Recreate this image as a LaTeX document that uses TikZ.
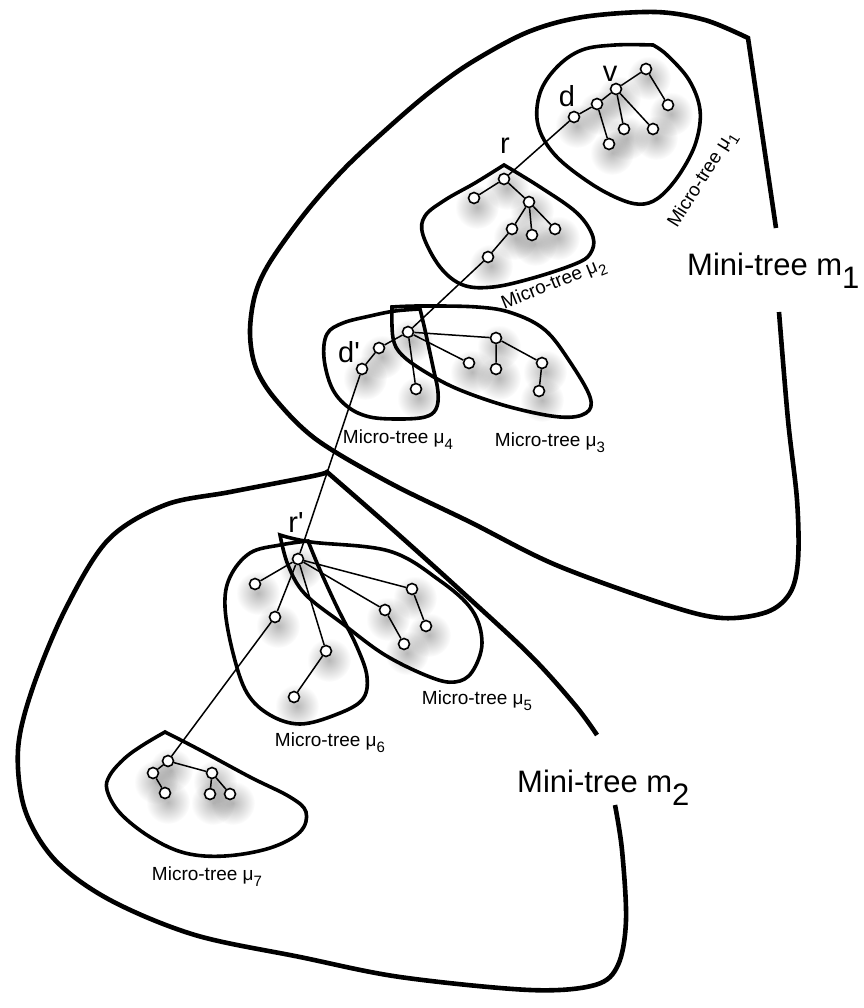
\documentclass[tikz,border=0pt]{standalone}
\usepackage{fontspec}
\usepackage{graphicx}
\setmainfont{Liberation Sans}[Ligatures=TeXOff]
\usetikzlibrary{fadings}
\tikzfading[name=softshadow, inner color=transparent!0, outer color=transparent!100]
\pgfdeclarelayer{bg}
\pgfsetlayers{bg,main}
\newcommand\mulab[1]{Micro-tree μ\raisebox{-0.32em}{\fontsize{15}{15}\selectfont #1}}
\newcommand\minilab[1]{Mini-tree m\raisebox{-0.42em}{#1}}
\tikzset{
  tn/.style={circle, draw, fill=white, line width=1.6pt, inner sep=0pt, minimum size=11pt},
  tedge/.style={line width=1.5pt},
  micro/.style={line width=3.6pt},
  mini/.style={line width=4.6pt},
  lbl/.style={font=\fontsize{29}{29}\selectfont, inner sep=0pt},
  mlbl/.style={font=\fontsize{19}{19}\selectfont, inner sep=0pt},
  Mlbl/.style={font=\fontsize{31}{31}\selectfont, inner sep=0pt, anchor=base west},
  shd/.style={fill=black, opacity=0.28, path fading=softshadow},
}
\begin{document}
\begin{tikzpicture}[x=1pt,y=-1pt]
\useasboundingbox (0,0) rectangle (863,1008);

% ---------- tree nodes ----------
% micro-tree mu1
\node[tn] (a1) at (574,117) {};
\node[tn] (a2) at (597,104) {};
\node[tn] (a3) at (616,89) {};
\node[tn] (a4) at (646,69) {};
\node[tn] (a5) at (668,105) {};
\node[tn] (a6) at (624,129) {};
\node[tn] (a7) at (653,129) {};
\node[tn] (a8) at (609,144) {};
% micro-tree mu2
\node[tn] (b1) at (504,179) {};
\node[tn] (b2) at (474,198) {};
\node[tn] (b3) at (529,202) {};
\node[tn] (b4) at (512,229) {};
\node[tn] (b5) at (532,235) {};
\node[tn] (b6) at (555,229) {};
\node[tn] (b7) at (488,257) {};
% micro-trees mu3 / mu4
\node[tn] (c1) at (408,332) {};
\node[tn] (c2) at (379,348) {};
\node[tn] (c3) at (362,369) {};
\node[tn] (c4) at (416,389) {};
\node[tn] (c5) at (469,363) {};
\node[tn] (c6) at (496,338) {};
\node[tn] (c7) at (496,369) {};
\node[tn] (c8) at (542,363) {};
\node[tn] (c9) at (539,391) {};
% micro-trees mu5 / mu6
\node[tn] (e1) at (298,559) {};
\node[tn] (e2) at (255,584) {};
\node[tn] (e3) at (275,617) {};
\node[tn] (e4) at (326,651) {};
\node[tn] (e5) at (294,697) {};
\node[tn] (e6) at (385,610) {};
\node[tn] (e7) at (404,644) {};
\node[tn] (e8) at (412,589) {};
\node[tn] (e9) at (426,626) {};
% micro-tree mu7
\node[tn] (f1) at (168,761) {};
\node[tn] (f2) at (153,773) {};
\node[tn] (f3) at (165,793) {};
\node[tn] (f4) at (212,773) {};
\node[tn] (f5) at (210,794) {};
\node[tn] (f6) at (230,794) {};

% ---------- soft shadows ----------
\begin{pgfonlayer}{bg}
\foreach \n in {a1,a2,a3,a4,a5,a6,a7,a8,b1,b2,b3,b4,b5,b6,b7,c1,c2,c3,c4,c5,c6,c7,c8,c9,e1,e2,e3,e4,e5,e6,e7,e8,e9,f1,f2,f3,f4,f5,f6}
  \path[shd] ([shift={(3,9)}]\n.center) circle (22);
\end{pgfonlayer}

% ---------- edges ----------
\draw[tedge] (a1) -- (a2) (a2) -- (a3) (a3) -- (a4) (a4) -- (a5) (a2) -- (a8) (a3) -- (a6) (a3) -- (a7);
\draw[tedge] (a1) -- (b1);
\draw[tedge] (b1) -- (b2) (b1) -- (b3) (b3) -- (b4) (b3) -- (b5) (b3) -- (b6) (b4) -- (b7);
\draw[tedge] (b7) -- (c1);
\draw[tedge] (c1) -- (c2) (c2) -- (c3) (c1) -- (c4) (c1) -- (c5) (c1) -- (c6) (c6) -- (c7) (c6) -- (c8) (c8) -- (c9);
\draw[tedge] (c3) -- (e1);
\draw[tedge] (e1) -- (e2) (e1) -- (e3) (e1) -- (e4) (e4) -- (e5) (e1) -- (e6) (e6) -- (e7) (e1) -- (e8) (e8) -- (e9);
\draw[tedge] (e3) -- (f1);
\draw[tedge] (f1) -- (f2) (f2) -- (f3) (f1) -- (f4) (f4) -- (f5) (f4) -- (f6);

% ---------- micro-tree outlines ----------
\draw[micro] plot[smooth,tension=0.6] coordinates {(653,45) (667,55) (689,80) (700,110) (696,142) (681,172) (662,195) (644,204) (622,200) (590,183) (555,155) (538,125) (540,93) (557,67) (582,50) (615,45) (653,45)} -- cycle;
\draw[micro] plot[smooth,tension=0.6] coordinates {(504,165) (540,187) (577,213) (593,237) (590,254) (575,264) (533,278) (493,287) (463,285) (440,267) (423,235) (425,216) (445,200) (475,183) (504,165)} -- cycle;
\draw[micro] plot[smooth,tension=0.6] coordinates {(392,307) (420,306) (477,307) (512,313) (545,330) (570,362) (590,397) (586,413) (560,417) (510,407) (460,390) (427,373) (402,355) (393,338) (392,307)} -- cycle;
\draw[micro] plot[smooth,tension=0.6] coordinates {(420,309) (425,330) (433,367) (438,392) (436,409) (425,417) (400,419) (370,417) (348,407) (332,388) (324,358) (327,334) (343,323) (370,316) (395,311) (420,309)} -- cycle;
\draw[micro] plot[smooth,tension=0.6] coordinates {(280,535) (311,542) (389,551) (439,580) (472,610) (482,643) (472,672) (455,682) (430,677) (385,655) (343,624) (305,594) (288,565) (280,535)} -- cycle;
\draw[micro] plot[smooth,tension=0.6] coordinates {(308,541) (320,570) (337,607) (357,647) (367,677) (362,700) (335,715) (300,724) (270,715) (247,693) (233,653) (225,607) (230,577) (250,553) (280,545) (308,541)} -- cycle;
\draw[micro] plot[smooth,tension=0.6] coordinates {(165,732) (200,750) (250,777) (290,797) (306,812) (300,832) (270,848) (225,856) (185,853) (150,837) (120,813) (107,790) (110,775) (125,758) (143,745) (165,732)} -- cycle;

% ---------- mini-tree outlines ----------
\draw[mini] plot[smooth,tension=0.55] coordinates {(779,312) (788,420) (797,500) (798,560) (790,593) (767,612) (722,618) (667,605) (556,565) (470,522) (390,483) (317,440) (276,400) (256,368) (250,333) (255,295) (270,262) (306,212) (345,168) (389,127) (430,92) (472,62) (528,32) (583,17) (655,12) (705,20) (748,38)} -- (776,228);
\draw[mini] plot[smooth,tension=0.55] coordinates {(615,805) (622,850) (626,920) (618,965) (595,985) (530,990) (400,977) (300,957) (195,935) (110,900) (55,860) (25,810) (18,750) (32,690) (65,610) (108,540) (165,505) (230,492) (313,476) (327,472)} -- plot[smooth,tension=0.55] coordinates {(327,472) (390,527) (460,590) (530,655) (575,705) (597,735)};

% ---------- labels ----------
\node[lbl] (lr) at (505,146) {r};
\node[lbl] (ld) at (567,96) {d};
\node[lbl] (lv) at (610,74) {v};
\node[lbl] (ldp) at (349,352) {d'};
\node[lbl] (lrp) at (296,523) {r'};

\node[mlbl, rotate=58] (t1) at (703,180) {\mulab{1}};
\node[mlbl, rotate=22] (t2) at (554,285) {\mulab{2}};
\node[mlbl] (t3) at (550,443) {\mulab{3}};
\node[mlbl] (t4) at (398,440) {\mulab{4}};
\node[mlbl] (t5) at (477,701) {\mulab{5}};
\node[mlbl] (t6) at (330,743) {\mulab{6}};
\node[mlbl] (t7) at (207,877) {\mulab{7}};
\node[Mlbl] (M1) at (687,275) {\minilab{1}};
\node[Mlbl] (M2) at (517,792) {\minilab{2}};
\end{tikzpicture}
\end{document}
